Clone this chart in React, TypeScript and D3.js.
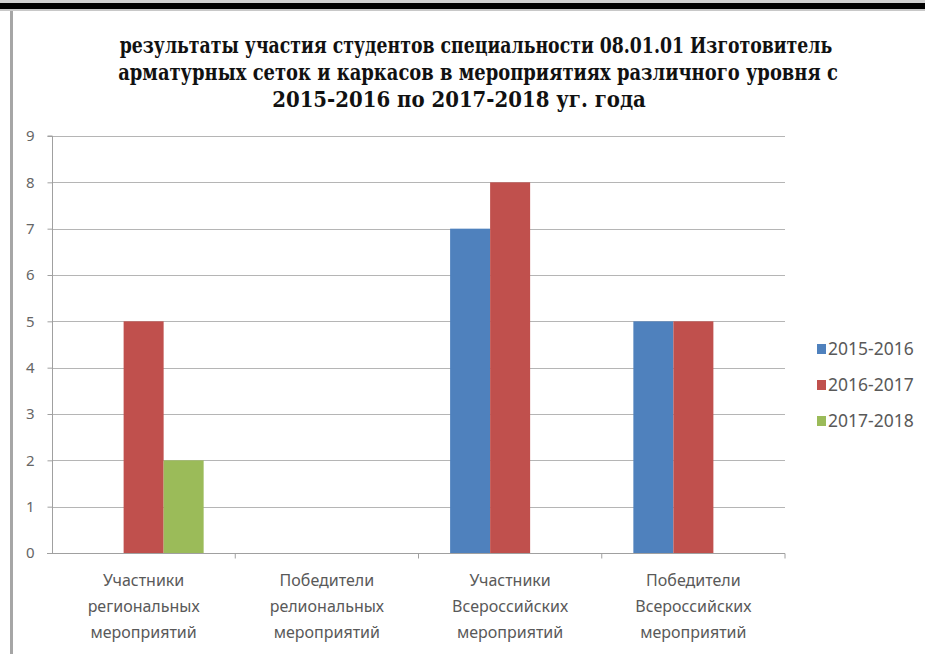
import React, { useEffect, useRef } from "react";
import * as d3 from "d3";

// chart data
const titleLines = [
  "результаты участия студентов специальности 08.01.01 Изготовитель",
  "арматурных сеток и каркасов в мероприятиях различного уровня с",
  "2015-2016 по 2017-2018 уг. года",
];

const categories = [
  "Участники\nрегиональных\nмероприятий",
  "Победители\nрелиональных\nмероприятий",
  "Участники\nВсероссийских\nмероприятий",
  "Победители\nВсероссийских\nмероприятий",
];

const seriesNames = ["2015-2016", "2016-2017", "2017-2018"];
const values2015 = [0, 0, 7, 5];
const values2016 = [5, 0, 8, 5];
const values2017 = [2, 0, 0, 0];
const seriesColors = ["#4f81bd", "#c0504d", "#9bbb59"];

const yTicks = [0, 1, 2, 3, 4, 5, 6, 7, 8, 9];

const W = 925;
const H = 654;

const App: React.FC = () => {
  const svgRef = useRef<SVGSVGElement>(null);

  useEffect(() => {
    if (!svgRef.current) return;
    const svg = d3.select(svgRef.current);
    svg.selectAll("*").remove();

    const series = [values2015, values2016, values2017];
    const plot = { left: 52, right: 785, top: 136, bottom: 553 };

    // frame of the original screenshot
    svg.append("rect").attr("width", W).attr("height", H).attr("fill", "#fff");
    svg.append("rect").attr("x", 0).attr("y", 0).attr("width", W).attr("height", 3).attr("fill", "#d0d0d0");
    svg.append("rect").attr("x", 0).attr("y", 3).attr("width", W).attr("height", 6).attr("fill", "#000");
    svg.append("rect").attr("x", 0).attr("y", 9).attr("width", W).attr("height", 2).attr("fill", "#c8c8c8");
    svg.append("rect").attr("x", 10).attr("y", 11).attr("width", 3).attr("height", H - 11).attr("fill", "#a6a6a6");

    // TITLE (condensed heavy serif in the original) - squeeze each line to its width
    const titleBox = [
      { cx: 476, w: 713 },
      { cx: 478, w: 720 },
      { cx: 459, w: 374 },
    ];
    svg
      .append("g")
      .attr("font-family", "DejaVu Serif, serif")
      .attr("font-weight", "bold")
      .attr("font-size", 22)
      .selectAll("text")
      .data(titleLines)
      .enter()
      .append("text")
      .attr("x", 0)
      .attr("y", 0)
      .attr("text-anchor", "middle")
      .attr("fill", "#111")
      .text(d => d)
      .each(function (_, i) {
        const node = this as SVGTextElement;
        const natural = node.getComputedTextLength() || titleBox[i].w;
        const k = titleBox[i].w / natural;
        d3.select(node).attr(
          "transform",
          `translate(${titleBox[i].cx},${53 + i * 27}) scale(${k},1)`
        );
      });

    // SCALES
    const x = d3
      .scaleBand()
      .domain(categories)
      .range([plot.left, plot.right])
      .padding(0);

    const xs = d3
      .scaleBand()
      .domain(seriesNames)
      .range([0, x.bandwidth()])
      .paddingInner(0)
      .paddingOuter(0.79);

    const y = d3.scaleLinear().domain([0, 9]).range([plot.bottom, plot.top]);

    // GRID
    svg
      .append("g")
      .selectAll("line")
      .data(yTicks.slice(1))
      .enter()
      .append("line")
      .attr("x1", plot.left)
      .attr("x2", plot.right)
      .attr("y1", d => Math.round(y(d)) + 0.5)
      .attr("y2", d => Math.round(y(d)) + 0.5)
      .attr("stroke", "#b5b5b5")
      .attr("stroke-width", 1.2);

    // BARS
    seriesNames.forEach((name, si) => {
      svg
        .append("g")
        .selectAll("rect")
        .data(series[si].map((v, ci) => ({ v, c: categories[ci] })))
        .enter()
        .append("rect")
        .attr("x", d => x(d.c)! + xs(name)!)
        .attr("y", d => y(d.v))
        .attr("width", xs.bandwidth())
        .attr("height", d => y(0) - y(d.v))
        .attr("fill", seriesColors[si]);
    });

    // Y AXIS
    const yAxis = svg
      .append("g")
      .attr("transform", `translate(${plot.left + 0.5},0)`)
      .call(
        d3
          .axisLeft(y)
          .tickValues(yTicks)
          .tickSize(5)
          .tickPadding(13)
          .tickFormat(d3.format("d"))
      );
    yAxis.select(".domain").attr("stroke", "#a0a0a0").attr("d", `M-5,${y(9)}H0V${y(0)}`);
    yAxis.selectAll(".tick line").attr("stroke", "#a0a0a0");
    yAxis
      .selectAll("text")
      .style("font-family", "'Noto Sans', 'Open Sans', sans-serif")
      .style("font-size", "15px")
      .attr("fill", "#666");

    // X AXIS
    const xAxis = svg.append("g").attr("transform", `translate(0,${Math.round(plot.bottom) + 0.5})`);
    xAxis
      .append("line")
      .attr("x1", plot.left - 5)
      .attr("x2", plot.right)
      .attr("stroke", "#a0a0a0")
      .attr("stroke-width", 1.2);
    xAxis
      .selectAll("line.sep")
      .data(categories)
      .enter()
      .append("line")
      .attr("class", "sep")
      .attr("x1", d => x(d)! + x.bandwidth())
      .attr("x2", d => x(d)! + x.bandwidth())
      .attr("y1", 0)
      .attr("y2", 5)
      .attr("stroke", "#a0a0a0");

    const labels = xAxis
      .selectAll("text")
      .data(categories)
      .enter()
      .append("text")
      .attr("text-anchor", "middle")
      .style("font-family", "'Noto Sans', 'Open Sans', sans-serif")
      .style("font-size", "16px")
      .attr("fill", "#595959");
    labels
      .selectAll("tspan")
      .data(d => d.split("\n").map(t => ({ t, c: d })))
      .enter()
      .append("tspan")
      .attr("x", d => x(d.c)! + x.bandwidth() / 2)
      .attr("y", (_, i) => 32 + i * 26)
      .text(d => d.t);

    // LEGEND
    const legend = svg
      .append("g")
      .selectAll("g")
      .data(seriesNames)
      .enter()
      .append("g")
      .attr("transform", (_, i) => `translate(817,${349 + i * 36})`);
    legend
      .append("rect")
      .attr("x", 0)
      .attr("y", -5)
      .attr("width", 9)
      .attr("height", 10)
      .attr("fill", (_, i) => seriesColors[i]);
    legend
      .append("text")
      .attr("x", 11)
      .attr("y", 0)
      .attr("dy", "0.35em")
      .style("font-family", "'Noto Sans', 'Open Sans', sans-serif")
      .style("font-size", "17.5px")
      .attr("fill", "#595959")
      .text(d => d);
  }, []);

  return (
    <svg
      ref={svgRef}
      width={W}
      height={H}
      style={{ position: "absolute", left: 0, top: 0, display: "block" }}
    />
  );
};

export default App;
